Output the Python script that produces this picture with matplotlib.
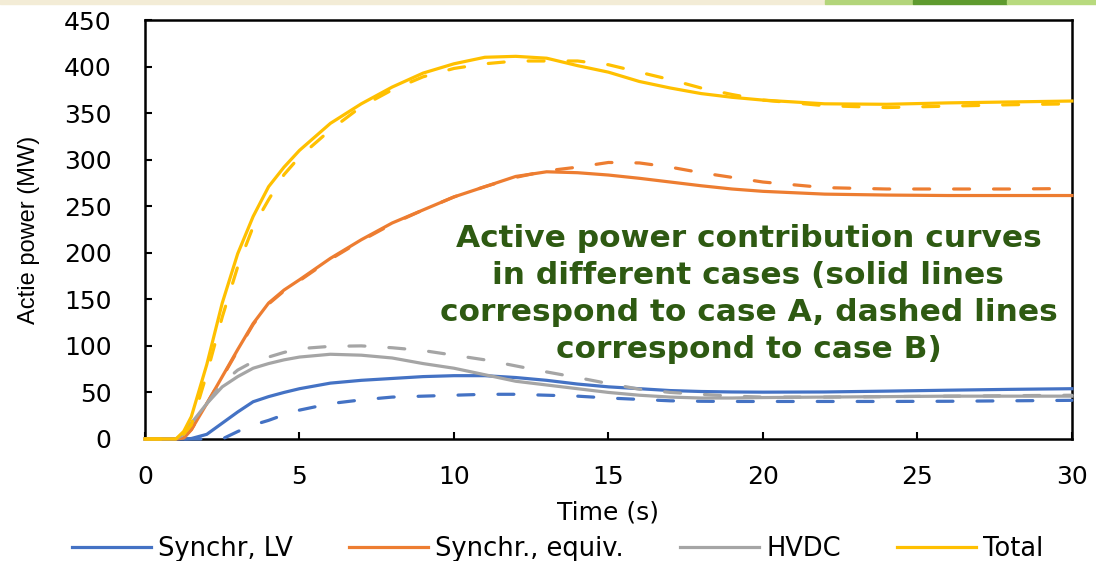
import matplotlib
matplotlib.use("Agg")
import matplotlib.pyplot as plt
from matplotlib.patches import Rectangle

# time axis (s)
time = [0, 1, 1.25, 1.5, 2, 2.5, 3, 3.5, 4, 4.5, 5, 6, 7, 8, 9, 10, 11, 12,
        13, 14, 15, 16, 17, 18, 19, 20, 22, 24, 26, 28, 30]

# case A (solid lines)
lv_a = [0, 0, 0, 0.5, 5, 17, 29, 40, 45.5, 50, 54, 60, 63, 65, 67, 68, 68, 66,
        63, 59, 56, 54, 52, 51, 50.5, 50.3, 50.5, 51.4, 52.4, 53.3, 54]
equiv_a = [0, 0, 1, 10, 38, 67, 96, 124, 146, 160, 171, 194, 214, 232, 246, 260,
           271, 282, 287, 286, 283.5, 280, 276, 272, 268.5, 266, 263, 262, 261.5,
           261.5, 261.5]
hvdc_a = [0, 0, 5, 17, 38, 56, 67, 76, 81, 85, 88, 91, 90, 87, 81, 76, 69, 62,
          58, 54, 50, 47, 45, 44, 44, 44.5, 45, 45.5, 46, 46, 46]
total_a = [0, 0, 8, 24, 80, 146, 199, 239, 271, 292, 310, 339, 360, 378, 393,
           403, 410, 411, 409, 401, 394, 384, 377, 371, 367, 364, 360, 359.5,
           361, 362, 363]

# case B (dashed lines)
lv_b = [0, 0, 0, 0, 0, 0, 8, 15, 20, 26, 31, 38, 42, 45, 46, 47, 48, 48, 47,
        46, 44, 42.5, 41, 40.5, 40.3, 40.3, 40.3, 40.3, 40.5, 41, 41.5]
equiv_b = [0, 0, 1, 10, 38, 66, 95, 123, 145, 159, 170, 193, 213, 231, 246, 260,
           271, 281, 288, 292, 297, 296.5, 292, 286, 281, 276, 270, 268.5, 268.5,
           268.5, 269]
hvdc_b = [0, 0, 5, 17, 38, 60, 74, 83, 88, 93, 97, 99.5, 100, 98, 95, 90, 85,
          78.5, 72, 66, 59.5, 53.5, 50, 48, 46, 45, 45, 45.5, 46, 46.5, 47]
total_b = [0, 0, 5, 15, 70, 131, 185, 228, 257, 284, 303, 332, 357, 375, 389,
           398, 403, 406, 406, 406, 402, 394, 386, 377, 370, 364, 358, 356,
           357.5, 359, 360]

names = ["Synchr, LV", "Synchr., equiv.", "HVDC", "Total"]
colors = ["#4472C4", "#ED7D31", "#A5A5A5", "#FFC000"]
series_a = [lv_a, equiv_a, hvdc_a, total_a]
series_b = [lv_b, equiv_b, hvdc_b, total_b]

fig = plt.figure(figsize=(10.96, 5.61), dpi=100)
ax = fig.add_axes([0.1323, 0.2175, 0.8457, 0.7468])

# thin decorative strip along the top edge
strip = [(0.0, 0.753, "#F3ECD6"), (0.753, 0.833, "#B3D57A"),
         (0.833, 0.919, "#5F9B2F"), (0.919, 1.0, "#B8DA7E")]
for x0, x1, c in strip:
    fig.patches.append(Rectangle((x0, 0.993), x1 - x0, 0.007,
                                 transform=fig.transFigure, color=c, zorder=0))

handles = []
for name, c, ya, yb in zip(names, colors, series_a, series_b):
    ax.plot(time, yb, color=c, lw=2.3, dashes=(5, 7.5), dash_capstyle="round",
            zorder=3, clip_on=False)
    h, = ax.plot(time, ya, color=c, lw=2.3, zorder=3, clip_on=False, label=name)
    handles.append(h)

ax.set_xlim(0, 30)
ax.set_ylim(0, 450)
ax.set_xticks(range(0, 31, 5))
ax.set_yticks(range(0, 451, 50))
ax.tick_params(axis="y", direction="in", length=5, width=1.5, labelsize=18,
               pad=24)
ax.tick_params(axis="x", direction="in", length=5, width=1.5, labelsize=18,
               pad=19)
for s in ax.spines.values():
    s.set_linewidth(1.8)

ax.set_xlabel("Time (s)", fontsize=18)
ax.xaxis.set_label_coords(0.5, -0.148)
ax.set_ylabel("Actie power (MW)", fontsize=17, family="Liberation Sans")
ax.yaxis.set_label_coords(-0.113, 0.5)

ax.text(0.651, 0.347,
        "Active power contribution curves\nin different cases (solid lines\n"
        "correspond to case A, dashed lines\ncorrespond to case B)",
        transform=ax.transAxes, ha="center", va="center", fontsize=22.5,
        fontweight="bold", color="#2E5A12", linespacing=1.35)

fig.legend(handles=handles, loc="center", bbox_to_anchor=(0.509, 0.021),
           ncol=4, frameon=False, fontsize=18.5, handlelength=3.07,
           handletextpad=0.27, columnspacing=2.2)

fig.savefig("out.png", dpi=100)
